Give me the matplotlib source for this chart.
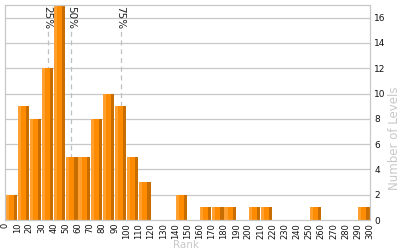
import matplotlib
matplotlib.use("Agg")
import matplotlib.pyplot as plt
import numpy as np

bin_starts = list(range(0, 300, 10))
counts = [2, 9, 8, 12, 17, 5, 5, 8, 10, 9, 5, 3, 0, 0, 2, 0, 1, 1, 1, 0,
          1, 1, 0, 0, 0, 1, 0, 0, 0, 1]
percentiles = [("25%", 35), ("50%", 54), ("75%", 95)]
x_ticks = list(range(0, 301, 10))
y_ticks = list(range(0, 17, 2))

fig = plt.figure(figsize=(4, 2.5), dpi=100)
ax = fig.add_axes([0.0125, 0.12, 0.9125, 0.86])

grid_c = "#c8c8c8"
for y in y_ticks[1:]:
    ax.axhline(y, color=grid_c, lw=0.9, zorder=0)

x0 = np.array(bin_starts, dtype=float)
h = np.array(counts, dtype=float)
ax.bar(x0 + 0.4, h, width=2.6, align="edge", color="#ffa030", lw=0, zorder=2)
ax.bar(x0 + 3.0, h, width=4.1, align="edge", color="#ff8c00", lw=0, zorder=2)
ax.bar(x0 + 7.1, h, width=2.5, align="edge", color="#c86e00", lw=0, zorder=2)

for lab, xv in percentiles:
    ax.plot([xv, xv], [0, 15.3], color="#c0c0c0", lw=0.9, ls=(0, (4, 3)), zorder=1)
    ax.text(xv, 16.95, lab, rotation=270, ha="center", va="top", fontsize=7.5,
            color="#222222", zorder=3)

ax.set_xlim(0, 300)
ax.set_ylim(0, 17)
ax.set_xticks(x_ticks)
ax.set_xticklabels([str(t) for t in x_ticks], rotation=90, fontsize=6)
ax.set_yticks(y_ticks)
ax.set_yticklabels([str(t) for t in y_ticks], fontsize=6.5)
ax.yaxis.tick_right()
ax.tick_params(axis="x", length=0, pad=2, colors="#111111")
ax.tick_params(axis="y", length=0, pad=3, colors="#111111")
for s in ax.spines.values():
    s.set_color(grid_c)
    s.set_linewidth(0.9)

fig.text(186 / 400, 0.0, "Rank", color="#c8c8c8", fontsize=7.5,
         ha="center", va="bottom")
fig.text(394 / 400, 1 - 138 / 250, "Number of Levels", color="#c8c8c8",
         fontsize=8.5, rotation=90, ha="center", va="center")

fig.savefig("out.png", dpi=100)
